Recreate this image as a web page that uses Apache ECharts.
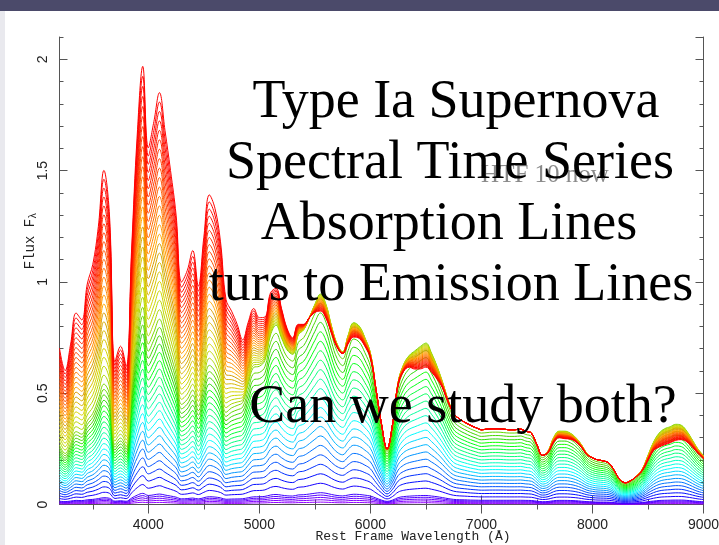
<!DOCTYPE html>
<html>
<head>
<meta charset="utf-8">
<script src="https://cdn.jsdelivr.net/npm/echarts@6.0.0/dist/echarts.min.js"></script>
<style>
  html, body { margin: 0; padding: 0; background: #ffffff; }
  #chart { width: 719px; height: 545px; }
</style>
</head>
<body>
<div id="chart"></div>
<script>
// Rest-frame wavelength grid (Angstrom), category axis
const wavelengths = [3200,3250,3300,3350,3400,3450,3500,3550,3600,3650,3700,3750,3800,3850,3900,3950,4000,4050,4100,4150,4200,4250,4300,4350,4400,4450,4500,4550,4600,4650,4700,4750,4800,4850,4900,4950,5000,5050,5100,5150,5200,5250,5300,5350,5400,5450,5500,5550,5600,5650,5700,5750,5800,5850,5900,5950,6000,6050,6100,6150,6200,6250,6300,6350,6400,6450,6500,6550,6600,6650,6700,6750,6800,6850,6900,6950,7000,7050,7100,7150,7200,7250,7300,7350,7400,7450,7500,7550,7600,7650,7700,7750,7800,7850,7900,7950,8000,8050,8100,8150,8200,8250,8300,8350,8400,8450,8500,8550,8600,8650,8700,8750,8800,8850,8900,8950,9000];

// Flux increment between successive spectra of the time series
// earliest, faint spectra (violet)
const faintStep = [.003,.0026,.0031,.0037,.0035,.0042,.0046,.0053,.0061,.0056,
  .003,.0034,.0029,.0058,.0084,.01,.0081,.0087,.0094,.0085,
  .0076,.0066,.0051,.0053,.0058,.005,.0061,.007,.0067,.006,
  .0047,.0049,.005,.0052,.0061,.0069,.007,.0073,.0085,.009,
  .0084,.0078,.0076,.0086,.0088,.0094,.0101,.0106,.0101,.009,
  .0081,.0077,.0085,.0092,.009,.0084,.0076,.0058,.004,.0028,
  .004,.0062,.0071,.0075,.0078,.008,.0081,.0076,.007,.0062,
  .0053,.0046,.0043,.0042,.004,.0039,.0038,.0038,.0038,.0038,
  .0038,.0038,.0038,.0038,.0037,.0036,.003,.0025,.0027,.0034,
  .0037,.0037,.0036,.0034,.003,.0026,.0024,.0022,.0022,.0021,
  .0017,.0012,.0011,.0012,.0015,.0018,.0025,.0031,.0036,.0038,
  .0039,.004,.004,.0037,.0033,.0028,.0025];
// blue -> cyan -> green spectra
const coolStep = [.012,.0103,.0123,.0147,.0142,.0169,.0184,.0213,.0243,.0222,
  .0121,.0134,.0117,.0233,.0336,.0398,.0324,.0348,.0374,.034,
  .0303,.0263,.0202,.0212,.0231,.0198,.0243,.0281,.0269,.0239,
  .0186,.0195,.02,.0206,.0243,.0277,.0279,.0291,.0342,.0362,
  .0336,.0312,.0303,.0342,.0353,.0377,.0404,.0425,.0404,.036,
  .0324,.0308,.0342,.0367,.036,.0337,.0306,.0234,.0162,.0112,
  .0162,.0247,.0283,.0301,.031,.0319,.0326,.0306,.0279,.0247,
  .0211,.0184,.0173,.0166,.016,.0155,.0151,.0152,.0153,.0153,
  .0152,.0151,.0151,.0152,.0148,.0144,.0121,.0099,.0108,.0135,
  .0148,.0148,.0144,.0135,.0121,.0103,.0094,.009,.0088,.0083,
  .0067,.0049,.0044,.0049,.0058,.0072,.0099,.0126,.0144,.0153,
  .0157,.0162,.016,.0148,.013,.0112,.0099];
// yellow -> orange -> red spectra (blue-heavy)
const warmStep = [.0181,.0155,.0186,.0222,.0214,.0256,.0279,.0323,.04,.0336,
  .0155,.0172,.015,.0264,.038,.0451,.0367,.0394,.0424,.0385,
  .0344,.0298,.0229,.0241,.0261,.0225,.0275,.0319,.0305,.027,
  .0211,.0181,.0152,.0117,.0116,.011,.0091,.0081,.0079,.0069,
  .0055,.004,.0031,.002,.001,0,-.0015,-.0032,-.0026,-.0013,
  -.0006,-.0003,-.0016,-.0027,-.0023,-.0016,-.0009,-.0002,0,0,
  0,-.0005,-.0013,-.0022,-.0034,-.0042,-.0045,-.0036,-.0024,-.0011,
  -.0004,0,0,0,0,0,0,0,0,0,
  0,0,0,0,0,0,-.0001,0,-.0003,-.0009,
  -.0012,-.0014,-.0011,-.0008,-.0005,-.0002,0,0,0,0,
  0,0,0,0,-.0001,-.0003,-.0009,-.0016,-.0026,-.003,
  -.003,-.003,-.0027,-.002,-.0013,-.0008,-.0006];

// number of spectra in each group
const groupCounts = [5, 21, 24];
const xLabelValues = [4000, 5000, 6000, 7000, 8000, 9000];

function rowColor(i) {
  let h;
  if (i < 5) h = 275 - i * 5;
  else if (i < 26) h = 245 - (i - 5) * 8;
  else h = 72 * Math.pow((49 - i) / 23, 1.4);
  const l = (h > 40 && h < 110) ? 42 : 50;
  return 'hsl(' + h.toFixed(1) + ',100%,' + l + '%)';
}

const groupData = [faintStep, coolStep, warmStep];
const series = [];
let row = 0;
groupCounts.forEach(function (n, g) {
  for (let k = 0; k < n; k++) {
    series.push({
      type: 'line', xAxisIndex: 0, yAxisIndex: 0,
      data: groupData[g], stack: 'spectra', stackStrategy: 'all',
      smooth: 0.4, symbol: 'none', silent: true, z: 2,
      lineStyle: { width: 1, color: rowColor(row) }
    });
    row++;
  }
});

const axisCol = '#555';
const isMajor = function (i, v) { return Number(v) % 1000 === 0; };
const isMinor = function (i, v) { return Number(v) % 500 === 0; };

function xAx(pos, tickFn, len, showLine, showLabel) {
  return {
    type: 'category', data: wavelengths, boundaryGap: false, position: pos, gridIndex: 0,
    axisLine: { show: showLine, lineStyle: { color: axisCol, width: 1 } },
    axisTick: { show: true, inside: true, length: len, interval: tickFn, lineStyle: { color: axisCol } },
    axisLabel: showLabel ? {
      show: true, interval: function (i, v) { return xLabelValues.indexOf(Number(v)) >= 0; },
      margin: 14, fontSize: 14, fontFamily: 'Liberation Sans', color: '#222'
    } : { show: false },
    splitLine: { show: false }
  };
}
function yAx(pos, interval, len, showLine, showLabel) {
  return {
    type: 'value', min: 0, max: 2.1, interval: interval, position: pos, gridIndex: 0,
    axisLine: { show: showLine, lineStyle: { color: axisCol, width: 1 } },
    axisTick: { show: true, inside: true, length: len, lineStyle: { color: axisCol } },
    axisLabel: showLabel ? {
      show: true, rotate: 90, margin: 9, fontSize: 14, fontFamily: 'Liberation Sans',
      color: '#222', showMaxLabel: false
    } : { show: false },
    splitLine: { show: false }
  };
}

const bigFont = '54px "Liberation Serif"';
function bigText(str, x, y) {
  return { type: 'text', x: x, y: y, z: 100,
    style: { text: str, font: bigFont, fill: '#000', align: 'center', verticalAlign: 'middle' } };
}

const option = {
  animation: false,
  backgroundColor: '#ffffff',
  grid: { left: 59.5, right: 15.5, top: 37, bottom: 40.5, containLabel: false, outerBoundsMode: 'none' },
  xAxis: [
    xAx('bottom', isMajor, 9, true, true),
    xAx('bottom', isMinor, 5, false, false),
    xAx('top', isMajor, 9, true, false),
    xAx('top', isMinor, 5, false, false)
  ],
  yAxis: [
    yAx('left', 0.5, 8, true, true),
    yAx('left', 0.1, 4, false, false),
    yAx('right', 0.5, 8, true, false),
    yAx('right', 0.1, 4, false, false)
  ],
  series: series,
  graphic: [
    { type: 'rect', z: 50, shape: { x: 0, y: 0, width: 719, height: 11 }, style: { fill: '#4b4a6a' } },
    { type: 'rect', z: 50, shape: { x: 0, y: 11, width: 5, height: 534 }, style: { fill: '#e9e9ee' } },
    { type: 'text', x: 413, y: 537, z: 60,
      style: { text: 'Rest Frame Wavelength (Å)', font: '13px "Liberation Mono"', fill: '#222', align: 'center', verticalAlign: 'middle' } },
    { type: 'text', x: 30, y: 241, z: 60, rotation: Math.PI / 2,
      style: { text: '{a|Flux F}{s|λ}', align: 'center', verticalAlign: 'middle',
        rich: { a: { font: '14px "Liberation Mono"', fill: '#222' },
                s: { font: '10px "Liberation Mono"', fill: '#222', padding: [6, 0, 0, 0] } } } },
    { type: 'text', x: 545, y: 175, z: 90,
      style: { text: 'HTF 10 now', font: '25px "Liberation Serif"', fill: '#8a8a8a', align: 'center', verticalAlign: 'middle' } },
    bigText('Type Ia Supernova', 456, 103),
    bigText('Spectral Time Series', 450, 164),
    bigText('Absorption Lines', 449, 225),
    bigText('turs to Emission Lines', 451, 286),
    bigText('Can we study both?', 463, 408)
  ]
};

const chart = echarts.init(document.getElementById('chart'), null, { renderer: 'canvas' });
chart.setOption(option);
</script>
</body>
</html>
